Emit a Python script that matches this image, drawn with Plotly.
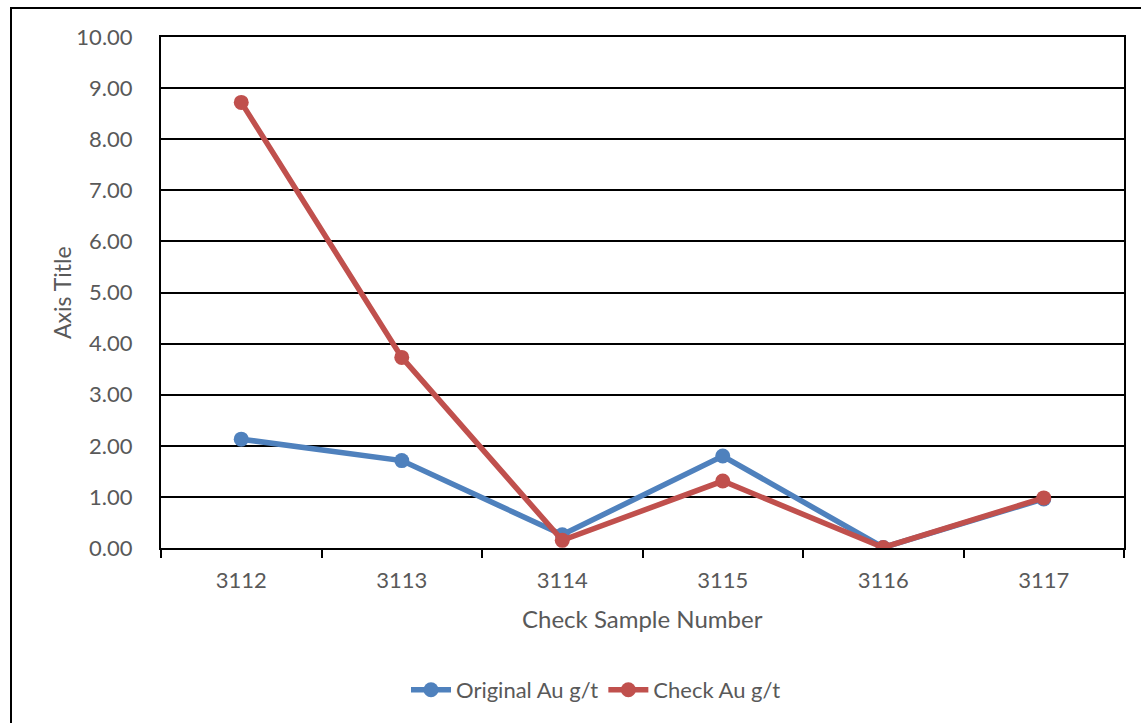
import plotly.graph_objects as go

samples = ["3112", "3113", "3114", "3115", "3116", "3117"]
original_au = [2.13, 1.71, 0.26, 1.80, 0.01, 0.96]
check_au = [8.72, 3.73, 0.15, 1.31, 0.01, 0.98]

BLUE = "#4F81BD"
RED = "#C0504D"
GREY = "#595959"
FONT = "Lato"

W, H = 1141, 723
L, R, T, B = 161, 17, 37, 175
pw, ph = W - L - R, H - T - B


def px(x):
    return (x - L) / pw


def py(y):
    return (H - B - y) / ph


fig = go.Figure()
fig.add_trace(go.Scatter(
    x=samples, y=original_au, name="Original Au g/t", mode="lines+markers",
    line=dict(color=BLUE, width=5.5), marker=dict(size=15, color=BLUE),
))
fig.add_trace(go.Scatter(
    x=samples, y=check_au, name="Check Au g/t", mode="lines+markers",
    line=dict(color=RED, width=5.5), marker=dict(size=15, color=RED),
))

fig.update_layout(
    width=W, height=H,
    margin=dict(l=L, r=R, t=T, b=B, autoexpand=False),
    paper_bgcolor="white", plot_bgcolor="white",
    font=dict(family=FONT, color=GREY, size=22),
    showlegend=True,
    legend=dict(orientation="h", x=px(596), xanchor="center", y=py(690), yanchor="middle",
                font=dict(size=22, color=GREY), itemwidth=40),
    xaxis=dict(
        type="category", range=[-0.5, 5.5], showline=True, linecolor="black", linewidth=2,
        mirror=True, ticks="outside", tickson="boundaries", ticklen=8, tickwidth=2,
        tickcolor="black", showgrid=False, tickfont=dict(size=22, color=GREY),
        ticklabelstandoff=12,
    ),
    yaxis=dict(
        range=[0, 10], dtick=1, tickformat=".2f", showline=True, linecolor="black",
        linewidth=2, mirror=True, showgrid=True, gridcolor="black", gridwidth=2,
        zeroline=False, ticks="", tickfont=dict(size=22, color=GREY),
        ticklabelstandoff=22,
    ),
    annotations=[
        dict(text="Axis Title", xref="paper", yref="paper", x=px(62), y=py(293),
             showarrow=False, textangle=-90, font=dict(size=23, color=GREY),
             xanchor="center", yanchor="middle"),
        dict(text="Check Sample Number", xref="paper", yref="paper", x=px(642), y=py(618),
             showarrow=False, font=dict(size=24, color=GREY),
             xanchor="center", yanchor="middle"),
    ],
    shapes=[
        dict(type="rect", xref="paper", yref="paper", x0=px(11), x1=px(1160),
             y0=py(740), y1=py(8), line=dict(color="black", width=2),
             fillcolor="rgba(0,0,0,0)", layer="below"),
    ],
)

fig.write_html("out.html")
